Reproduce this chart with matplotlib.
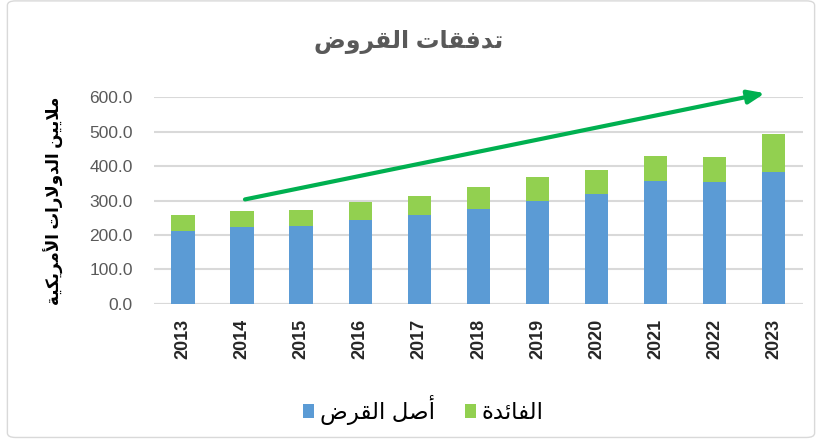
import matplotlib
matplotlib.use("Agg")
import matplotlib.pyplot as plt
from matplotlib.patches import FancyBboxPatch

# البيانات (مليون دولار)
years = ["2013", "2014", "2015", "2016", "2017", "2018", "2019", "2020", "2021", "2022", "2023"]
principal = [212, 222, 225, 245, 257, 277, 300, 318, 358, 355, 384]
interest = [46, 47, 47, 52, 57, 63, 69, 70, 73, 72, 111]
trend_start = (1, 302)
trend_end = (9.9, 614)

title_txt = "تدفقات القروض"
ylabel_txt = "ملايين الدولارات الأمريكية"
legend_txt = ["أصل القرض", "الفائدة"]

# تشكيل بسيط للحروف العربية (matplotlib لا يقوم بالتشكيل)
DUAL = {"ت": 0xFE95, "ف": 0xFED1, "ق": 0xFED5, "ل": 0xFEDD, "ض": 0xFEBD, "م": 0xFEE1,
        "ي": 0xFEF1, "ن": 0xFEE5, "ك": 0xFED9, "ص": 0xFEB9, "ئ": 0xFE89}
RIGHT = {"ا": 0xFE8D, "أ": 0xFE83, "د": 0xFEA9, "ر": 0xFEAD, "و": 0xFEED, "ة": 0xFE93}
LAMALEF = {"ا": 0xFEFB, "أ": 0xFEF7}


def shape(txt):
    out = []
    prev_joins = False
    i = 0
    while i < len(txt):
        c = txt[i]
        nxt = txt[i + 1] if i + 1 < len(txt) else ""
        if c == "ل" and nxt in LAMALEF:
            out.append(chr(LAMALEF[nxt] + (1 if prev_joins else 0)))
            prev_joins = False
            i += 2
            continue
        if c in DUAL:
            nj = nxt in DUAL or nxt in RIGHT
            form = {(False, False): 0, (True, False): 1, (False, True): 2, (True, True): 3}[(prev_joins, nj)]
            out.append(chr(DUAL[c] + form))
            prev_joins = True
        elif c in RIGHT:
            out.append(chr(RIGHT[c] + (1 if prev_joins else 0)))
            prev_joins = False
        else:
            out.append(c)
            prev_joins = False
        i += 1
    return "".join(out)[::-1]


plt.rcParams['font.family'] = ['Liberation Sans', 'DejaVu Sans']

fig = plt.figure(figsize=(8.22, 4.41), dpi=100)
ax = fig.add_axes([0.187, 0.311, 0.79, 0.468])

x = range(len(years))
b1 = ax.bar(x, principal, width=0.4, color="#5B9BD5", label=shape(legend_txt[0]), zorder=3)
b2 = ax.bar(x, interest, width=0.4, bottom=principal, color="#92D050", label=shape(legend_txt[1]), zorder=3)

ax.set_xlim(-0.5, len(years) - 0.5)
ax.set_ylim(0, 600)
ax.set_yticks(range(0, 601, 100))
ax.set_yticklabels([f"{v:.1f}" for v in range(0, 601, 100)])
ax.set_xticks(list(x))
ax.set_xticklabels(years, rotation=90, fontweight="bold")
ax.tick_params(axis="y", length=0, pad=15, labelsize=12.5, labelcolor="#595959")
ax.tick_params(axis="x", length=0, pad=11, labelsize=13, labelcolor="#262626")
ax.grid(axis="y", color="#D9D9D9", linewidth=1.5, zorder=0)
for s in ax.spines.values():
    s.set_visible(False)
ax.axhline(0, color="#D9D9D9", linewidth=1.5, zorder=1)

ax.annotate("", xy=trend_end, xytext=trend_start, annotation_clip=False,
            arrowprops=dict(arrowstyle="-|>,head_length=1.0,head_width=0.4",
                            color="#00B050", lw=3), zorder=4)

ax.set_ylabel(shape(ylabel_txt), fontsize=12, fontweight="bold", labelpad=18)

fig.text(0.497, 0.905, shape(title_txt), ha="center", va="center",
         fontsize=17, fontweight="bold", color="#595959")

fig.legend(handles=[b1, b2], loc="center", bbox_to_anchor=(0.515, 0.07), ncol=2,
           frameon=False, fontsize=16.5, handlelength=0.5, handleheight=0.5,
           columnspacing=1.3, handletextpad=0.25)

fig.patches.append(FancyBboxPatch((0.009, 0.008), 0.982, 0.99, transform=fig.transFigure,
                                  boxstyle="round,pad=0,rounding_size=0.01",
                                  fill=False, edgecolor="#D9D9D9", linewidth=1))

fig.savefig("out.png", dpi=100)
